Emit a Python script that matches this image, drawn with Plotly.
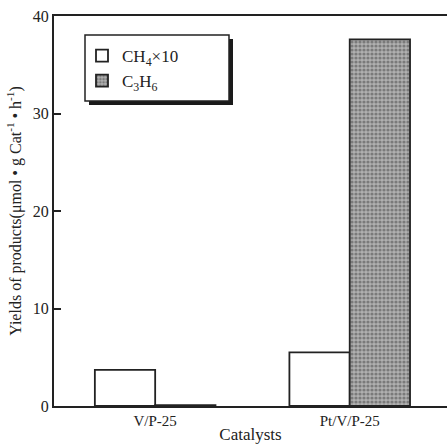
import plotly.graph_objects as go

categories = ["V/P-25", "Pt/V/P-25"]
ch4_x10 = [3.7, 5.5]
c3h6 = [0.1, 37.6]
y_ticks = [0, 10, 20, 30, 40]

FONT = "Liberation Serif"

fig = go.Figure()
fig.add_trace(go.Bar(
    x=categories, y=ch4_x10, name="CH<sub>4</sub>×10",
    marker=dict(color="white", line=dict(color="#222", width=1.8)),
))
fig.add_trace(go.Bar(
    x=categories, y=c3h6, name="C<sub>3</sub>H<sub>6</sub>",
    marker=dict(color="#999", line=dict(color="#222", width=1.8),
                pattern=dict(shape=".", fgcolor="#444", bgcolor="#b0b0b0", size=4, solidity=0.5)),
))

def px(x):
    return (x - 54) / 393

def py(y):
    return (406 - y) / 390

shapes = [
    dict(type="rect", xref="paper", yref="paper", x0=px(89), x1=px(233), y0=py(105), y1=py(39),
         fillcolor="#1a1a1a", line=dict(width=0), layer="above"),
    dict(type="rect", xref="paper", yref="paper", x0=px(85), x1=px(229), y0=py(101), y1=py(35),
         fillcolor="white", line=dict(color="#222", width=1.5), layer="above"),
]

fig.update_layout(
    width=447, height=444,
    margin=dict(l=54, r=0, t=16, b=38),
    paper_bgcolor="white", plot_bgcolor="white",
    barmode="group", bargap=0.38, bargroupgap=0,
    font=dict(family=FONT, size=15, color="#222"),
    shapes=shapes,
    showlegend=True,
    legend=dict(x=px(82), y=py(38), xanchor="left", yanchor="top",
                bgcolor="rgba(0,0,0,0)", borderwidth=0,
                font=dict(family=FONT, size=17, color="#222"),
                tracegroupgap=0, itemwidth=30),
    xaxis=dict(range=[-0.52, 1.5], showline=True, linecolor="#222", linewidth=2,
               mirror=True, ticks="", showgrid=False,
               title=dict(text="Catalysts", font=dict(family=FONT, size=17), standoff=2),
               tickfont=dict(family=FONT, size=15)),
    yaxis=dict(range=[0, 40], tickvals=y_ticks, showline=True, linecolor="#222", linewidth=2,
               ticks="inside", ticklen=7, tickwidth=1.5, tickcolor="#222", showgrid=False,
               zeroline=False,
               title=dict(text="Yields of products(μmol • g Cat<sup>-1</sup> • h<sup>-1</sup>)",
                          font=dict(family=FONT, size=16), standoff=7),
               tickfont=dict(family=FONT, size=16)),
)

fig.write_html("out.html")
